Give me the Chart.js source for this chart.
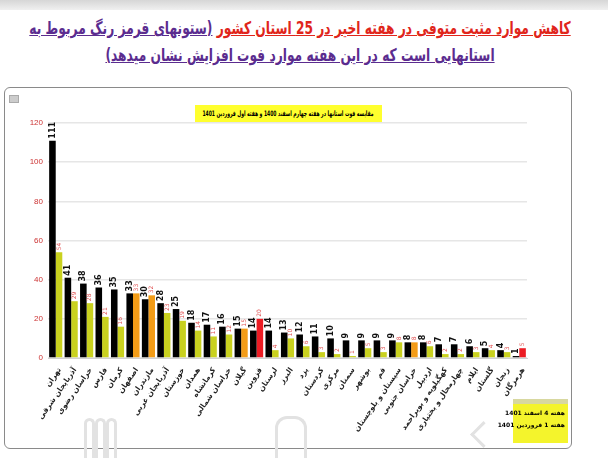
<!DOCTYPE html>
<html>
<head>
<meta charset="utf-8">
<script src="https://cdn.jsdelivr.net/npm/chart.js@4"></script>
<style>
body { margin: 0; width: 608px; height: 458px; background: #fff; position: relative; overflow: hidden; font-family: "DejaVu Sans", sans-serif; }
#topbar { position: absolute; left: 0; top: 0; width: 608px; height: 10px; background: linear-gradient(#d6d6d6, #f0f0f0); }
.tline { position: absolute; left: 300px; white-space: nowrap; direction: rtl; font-weight: bold; font-size: 17.5px; transform: translateX(-50%) scaleX(0.7); }
.red { color: #e0251b; text-decoration: underline; }
.purple { color: #5b2c8f; text-decoration: underline; }
#box { position: absolute; left: 4px; top: 87px; width: 566px; height: 360px; border: 1.5px solid #8a8a8a; border-radius: 6px; }
#icon { position: absolute; left: 9px; top: 95px; width: 8px; height: 6px; background: #ccc; border: 1px solid #aaa; }
#chartWrap { position: absolute; left: 0; top: 88px; }
#ctitle { position: absolute; left: 195px; top: 105px; width: 187px; height: 17px; background: #ffff2e; overflow: hidden; }
#ctitle span { position: absolute; left: 93px; top: 0; line-height: 17px; direction: rtl; white-space: nowrap; font-weight: bold; font-size: 7.5px; transform: translateX(-50%) scaleX(0.6); }
#legend { position: absolute; left: 513px; top: 399px; width: 55px; height: 44px; background: #f4f42c; font-size: 6px; font-weight: bold; }
#legend .bar { height: 5px; background: #d8d8a0; }
#legend .row { direction: rtl; white-space: nowrap; margin: 5px 3px 0 3px; display: flex; justify-content: space-between; align-items: center; }
#legend .sw { width: 3px; height: 7px; }
.nav { position: absolute; border: 3px solid #e2e2e2; }
</style>
</head>
<body>
<div id="topbar"></div>
<div class="tline" style="top:18px"><span class="red">کاهش موارد مثبت متوفی در هفته اخیر در 25 استان کشور</span> <span class="purple">(ستونهای قرمز رنگ مربوط به</span></div>
<div class="tline" style="top:45px"><span class="purple">استانهایی است که در این هفته موارد فوت افزایش نشان میدهد)</span></div>
<div id="box"></div>
<div id="icon"></div>
<div id="chartWrap"><canvas id="chart" width="575" height="360"></canvas></div>
<div id="ctitle"><span>مقایسه فوت استانها در هفته چهارم اسفند 1400 و هفته اول فروردین 1401</span></div>
<div id="legend">
  <div class="bar"></div>
  <div class="row"><span>هفته 4 اسفند 1401</span><span class="sw" style="background:#000"></span></div>
  <div class="row"><span>هفته 1 فروردین 1401</span><span class="sw" style="background:#c9d11f"></span></div>
</div>
<!-- faint phone navigation icons over the screenshot -->
<div class="nav" style="left:84px;top:418px;width:5px;height:40px;border-radius:6px 6px 0 0;border-bottom:none"></div>
<div class="nav" style="left:95px;top:418px;width:5px;height:40px;border-radius:6px 6px 0 0;border-bottom:none"></div>
<div class="nav" style="left:106px;top:418px;width:5px;height:40px;border-radius:6px 6px 0 0;border-bottom:none"></div>
<div class="nav" style="left:275px;top:416px;width:26px;height:40px;border-radius:12px 12px 0 0;border-bottom:none"></div>
<div class="nav" style="left:474px;top:425px;width:16px;height:16px;border-right:none;border-bottom:none;transform:rotate(-45deg)"></div>
<script>
// provinces, ordered by deaths in the 4th week of Esfand 1400
const provinces = ['تهران', 'آذربایجان شرقی', 'خراسان رضوی', 'فارس', 'کرمان', 'اصفهان', 'مازندران',
    'آذربایجان غربی', 'خوزستان', 'همدان', 'کرمانشاه', 'خراسان شمالی', 'گیلان', 'قزوین', 'لرستان',
    'البرز', 'یزد', 'کردستان', 'مرکزی', 'سمنان', 'بوشهر', 'قم', 'سیستان و بلوچستان', 'خراسان جنوبی',
    'اردبیل', 'کهگیلویه و بویراحمد', 'چهارمحال و بختیاری', 'ایلام', 'گلستان', 'زنجان', 'هرمزگان'];
const week4Esfand = [111, 41, 38, 36, 35, 33, 30, 28, 25, 18, 17, 16, 15, 14, 14, 13, 12, 11, 10, 9,
    9, 9, 9, 8, 8, 7, 7, 6, 5, 4, 1];
const week1Farvardin = [54, 29, 28, 21, 16, 33, 32, 23, 19, 14, 11, 12, 15, 20, 4, 10, 6, 3, 2, 1,
    5, 3, 8, 8, 6, 2, 2, 3, 4, 3, 5];
const yTicks = [0, 20, 40, 60, 80, 100, 120];

// yellow = fewer deaths, orange = about the same, red = clear increase
const newWeekColors = week1Farvardin.map((v, i) => {
    if (v > week4Esfand[i] + 2) return '#ec1c24';
    if (v >= week4Esfand[i]) return '#f39c17';
    return '#c9d11f';
});

// rotated value labels on top of each bar
const barLabels = {
    id: 'barLabels',
    afterDatasetsDraw(chart) {
        const ctx = chart.ctx;
        chart.data.datasets.forEach((ds, di) => {
            chart.getDatasetMeta(di).data.forEach((bar, i) => {
                ctx.save();
                ctx.translate(bar.x, bar.y - 2);
                ctx.rotate(-Math.PI / 2);
                ctx.textAlign = 'left';
                ctx.textBaseline = 'middle';
                ctx.font = di === 0 ? 'bold 8px "DejaVu Sans"' : '6px "DejaVu Sans"';
                ctx.fillStyle = di === 0 ? '#111' : '#e05252';
                ctx.fillText(ds.data[i], 0, 0);
                ctx.restore();
            });
        });
    }
};

new Chart(document.getElementById('chart'), {
    type: 'bar',
    data: {
        labels: provinces,
        datasets: [{
            label: 'هفته 4 اسفند',
            data: week4Esfand,
            backgroundColor: '#000',
            barPercentage: 1,
            categoryPercentage: 0.85
        }, {
            label: 'هفته 1 فروردین',
            data: week1Farvardin,
            backgroundColor: newWeekColors,
            barPercentage: 1,
            categoryPercentage: 0.85
        }]
    },
    options: {
        responsive: false,
        animation: false,
        layout: { padding: { top: 35, right: 48, left: 0, bottom: 0 } },
        plugins: { legend: { display: false }, tooltip: { enabled: false } },
        scales: {
            x: {
                grid: { display: false, drawTicks: false },
                border: { display: true, color: '#d0d0d0' },
                ticks: {
                    autoSkip: false, minRotation: 55, maxRotation: 55, padding: 8, labelOffset: 4,
                    color: '#222', font: { family: 'DejaVu Sans', size: 7.5, weight: 'bold' }
                },
                afterFit(s) { s.height = 90; }
            },
            y: {
                min: 0, max: 120,
                afterBuildTicks(s) { s.ticks = yTicks.map(v => ({ value: v })); },
                ticks: { color: '#cc3333', padding: 5, font: { family: 'Liberation Sans', size: 8 } },
                grid: { color: '#e6e6e6', lineWidth: 1.5, drawTicks: false },
                border: { display: false },
                afterFit(s) { s.width = 48; }
            }
        }
    },
    plugins: [barLabels]
});
</script>
</body>
</html>
